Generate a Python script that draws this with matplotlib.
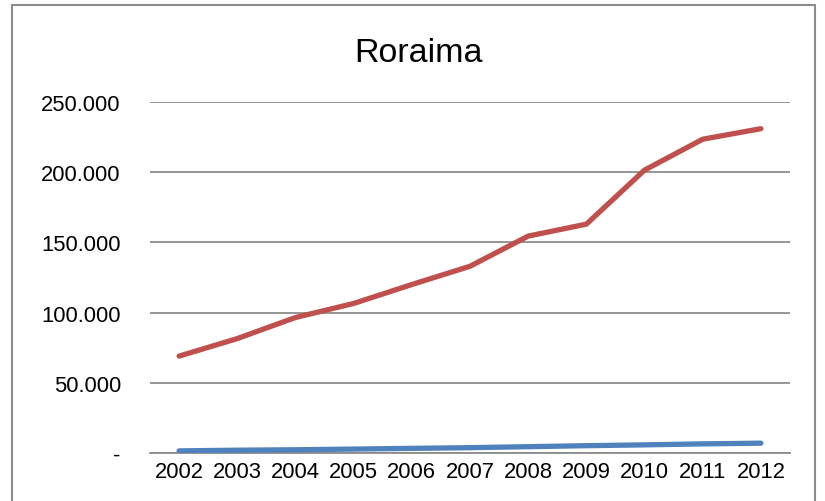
import matplotlib.pyplot as plt
from matplotlib.patches import Rectangle

# === Daten ==============================================================
years = ['2002', '2003', '2004', '2005', '2006', '2007',
         '2008', '2009', '2010', '2011', '2012']
red_vals = [69000, 81500, 96500, 106500, 120000, 133000,
            154500, 163000, 201500, 223500, 231000]
blue_vals = [1500, 2000, 2300, 2800, 3300, 3800,
             4500, 5200, 5800, 6500, 7000]
yticks = [0, 50000, 100000, 150000, 200000, 250000]
ytick_labels = ['-', '50.000', '100.000', '150.000', '200.000', '250.000']

plt.rcParams['font.family'] = ['Liberation Sans', 'DejaVu Sans']

# === Layout =============================================================
W, H = 825, 502
fig = plt.figure(figsize=(W / 100, H / 100), dpi=100)
ax = fig.add_axes([150 / W, 1 - 454 / H, 640 / W, 351 / H])

x = range(len(years))
ax.plot(x, blue_vals, color='#4F81BD', lw=3.8, solid_capstyle='round', zorder=3)
ax.plot(x, red_vals, color='#C0504D', lw=3.8, solid_capstyle='round', zorder=3)

ax.set_xlim(-0.5, len(years) - 0.5)
ax.set_ylim(0, 250000)
ax.set_yticks(yticks)
ax.set_yticklabels(ytick_labels)
ax.set_xticks(list(x))
ax.set_xticklabels(years)
ax.grid(axis='y', color='#8c8c8c', lw=1.3)
ax.set_axisbelow(True)
for side in ['top', 'right', 'left']:
    ax.spines[side].set_visible(False)
ax.spines['bottom'].set_color('#8c8c8c')
ax.spines['bottom'].set_linewidth(1.3)
ax.tick_params(length=0, labelsize=15.8, colors='black')
ax.tick_params(axis='y', pad=21)
ax.tick_params(axis='x', pad=6)

fig.text(418 / W, 1 - 53 / H, 'Roraima', ha='center', va='center', fontsize=24.5)

# Rahmen um das Diagramm
fig.patches.append(Rectangle((12 / W, -0.05), 803 / W, 1.05 - 6 / H,
                             transform=fig.transFigure, fill=False,
                             edgecolor='#8c8c8c', lw=1.5))

fig.savefig('out.png', dpi=100)
